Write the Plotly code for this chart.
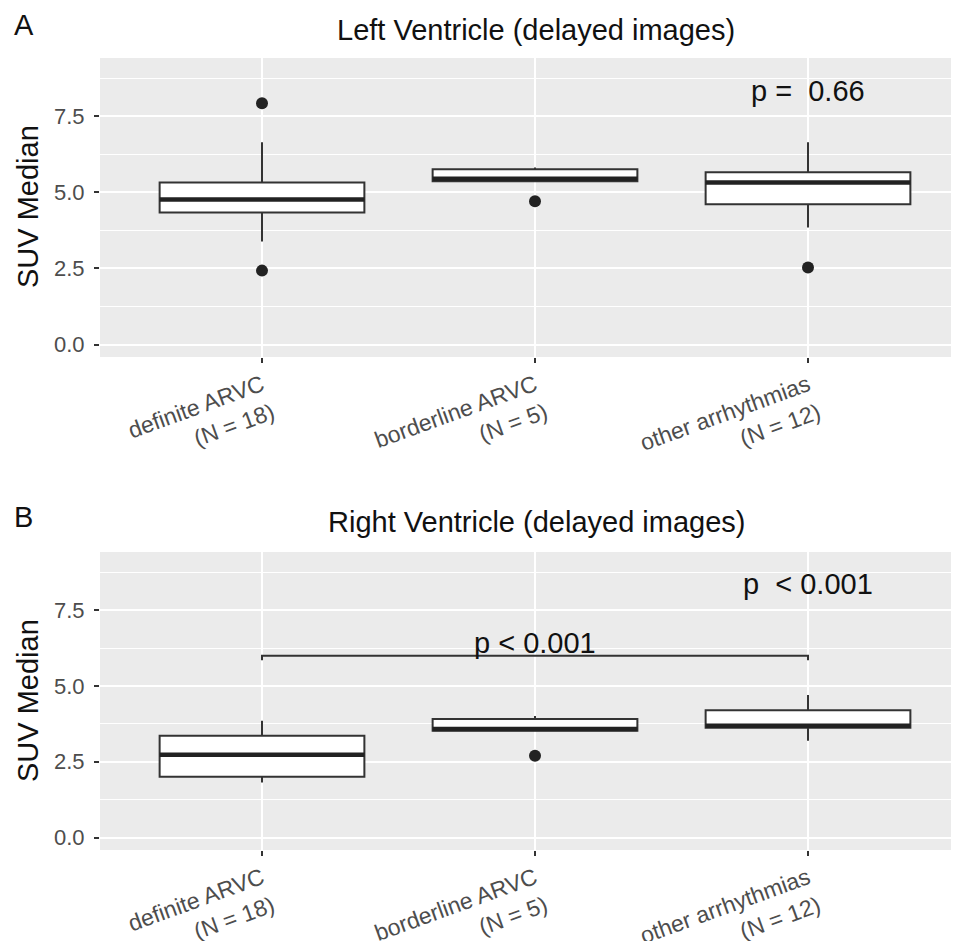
import plotly.graph_objects as go

# ---------------- data ----------------
categories = [1, 2, 3]
tick_labels = ["definite ARVC<br>(N = 18)", "borderline ARVC<br>(N = 5)", "other arrhythmias<br>(N = 12)"]

# Panel A: Left ventricle (delayed images)
lv_q1 = [4.34, 5.37, 4.61]
lv_median = [4.77, 5.45, 5.33]
lv_q3 = [5.33, 5.76, 5.66]
lv_lower = [3.39, 5.37, 3.85]
lv_upper = [6.65, 5.82, 6.65]
lv_out_x = [1, 1, 2, 3]
lv_out_y = [7.93, 2.43, 4.71, 2.53]
lv_p_text = "p =\u00a0\u00a00.66"

# Panel B: Right ventricle (delayed images)
rv_q1 = [2.01, 3.52, 3.62]
rv_median = [2.73, 3.58, 3.69]
rv_q3 = [3.36, 3.91, 4.20]
rv_lower = [1.82, 3.52, 3.19]
rv_upper = [3.85, 4.01, 4.70]
rv_out_x = [2]
rv_out_y = [2.70]
rv_p_text = "p\u00a0\u00a0< 0.001"
rv_bracket_groups = [1, 3]
rv_bracket_y = 6.0
rv_bracket_text = "p < 0.001"

# ---------------- layout constants ----------------
OFF = 8                      # page body margin offset
W, H = 959 - OFF, 941 - OFF
BOX_W = 0.75
LINE_C = "#333333"
FONT = "Liberation Sans, Arial, sans-serif"
PLOT_L, PLOT_R = 100, 959
# category 1 at x=262 px, spacing 273 px
X_RANGE = [1 - (262 - PLOT_L) / 273, 3 + (PLOT_R - 808) / 273]
Y_RANGE = [-0.41, 9.42]


def fx(p):
    return (p - OFF) / W


def fy(p):
    return 1 - (p - OFF) / H


fig = go.Figure()


def add_panel(xa, ya, q1, med, q3, lo, hi, ox, oy):
    fig.add_trace(go.Box(
        x=categories, q1=q1, median=med, q3=q3, lowerfence=lo, upperfence=hi,
        width=BOX_W, whiskerwidth=0, fillcolor="white",
        line=dict(color=LINE_C, width=2), boxpoints=False,
        xaxis=xa, yaxis=ya, showlegend=False, hoverinfo="skip"))
    # thicker median segments derived from the data
    mx, my = [], []
    for c, m in zip(categories, med):
        mx += [c - BOX_W / 2, c + BOX_W / 2, None]
        my += [m, m, None]
    fig.add_trace(go.Scatter(x=mx, y=my, mode="lines",
                             line=dict(color="#222222", width=4.5),
                             xaxis=xa, yaxis=ya, showlegend=False, hoverinfo="skip"))
    fig.add_trace(go.Scatter(x=ox, y=oy, mode="markers",
                             marker=dict(color="#222222", size=12),
                             xaxis=xa, yaxis=ya, showlegend=False, hoverinfo="skip"))


add_panel("x", "y", lv_q1, lv_median, lv_q3, lv_lower, lv_upper, lv_out_x, lv_out_y)
add_panel("x2", "y2", rv_q1, rv_median, rv_q3, rv_lower, rv_upper, rv_out_x, rv_out_y)

# significance bracket in panel B
bx0, bx1 = rv_bracket_groups
tip = 0.15
fig.add_trace(go.Scatter(
    x=[bx0, bx0, bx1, bx1], y=[rv_bracket_y - tip, rv_bracket_y, rv_bracket_y, rv_bracket_y - tip],
    mode="lines", line=dict(color="#333333", width=2),
    xaxis="x2", yaxis="y2", showlegend=False, hoverinfo="skip"))

x_dom = [fx(PLOT_L), 1.0]
yA = [fy(357), fy(58)]
yB = [fy(850), fy(552)]

xaxis_common = dict(
    range=X_RANGE, tickmode="array", tickvals=categories, ticktext=tick_labels,
    tickangle=-20, tickfont=dict(family=FONT, size=23, color="#4D4D4D"),
    showgrid=True, gridcolor="white", gridwidth=2, zeroline=False, showline=False,
    ticks="outside", ticklen=5, tickwidth=2, tickcolor="#333333", automargin=False,
    ticklabelstandoff=0, ticklabelshift=0,
    domain=x_dom, fixedrange=True)
yaxis_common = dict(
    range=Y_RANGE, tickmode="linear", tick0=0, dtick=2.5, tickformat=".1f",
    tickfont=dict(family=FONT, size=22, color="#4D4D4D"),
    showgrid=True, gridcolor="white", gridwidth=2, zeroline=False, showline=False,
    minor=dict(tick0=0, dtick=1.25, showgrid=True, gridcolor="white", gridwidth=1, ticks=""),
    ticks="outside", ticklen=5, tickwidth=2, tickcolor="#333333", automargin=False,
    ticklabelstandoff=5, fixedrange=True)

fig.update_layout(
    width=W, height=H, margin=dict(l=0, r=0, t=0, b=0),
    paper_bgcolor="white", plot_bgcolor="#EBEBEB",
    font=dict(family=FONT, color="#1a1a1a"),
    xaxis=dict(**xaxis_common, anchor="y"),
    yaxis=dict(**yaxis_common, domain=yA, anchor="x"),
    xaxis2=dict(**xaxis_common, anchor="y2"),
    yaxis2=dict(**yaxis_common, domain=yB, anchor="x2"),
)

TXT = "#111111"
ann = []
# panel letters
ann.append(dict(text="A", x=fx(12), y=fy(25), xref="paper", yref="paper",
                xanchor="left", yanchor="middle", showarrow=False, font=dict(size=29, color=TXT)))
ann.append(dict(text="B", x=fx(12), y=fy(517), xref="paper", yref="paper",
                xanchor="left", yanchor="middle", showarrow=False, font=dict(size=29, color=TXT)))
# titles
ann.append(dict(text="Left Ventricle (delayed images)", x=fx(536), y=fy(30), xref="paper", yref="paper",
                xanchor="center", yanchor="middle", showarrow=False, font=dict(size=29, color=TXT)))
ann.append(dict(text="Right Ventricle (delayed images)", x=fx(536), y=fy(522), xref="paper", yref="paper",
                xanchor="center", yanchor="middle", showarrow=False, font=dict(size=29, color=TXT)))
# y axis titles
for yc in (207, 701):
    ann.append(dict(text="SUV Median", x=fx(28), y=fy(yc), xref="paper", yref="paper",
                    xanchor="center", yanchor="middle", textangle=-90, showarrow=False,
                    font=dict(size=29, color=TXT)))
# p-values
ann.append(dict(text=lv_p_text, x=3, y=8.32, xref="x", yref="y", xanchor="center", yanchor="middle",
                showarrow=False, font=dict(size=29, color=TXT)))
ann.append(dict(text=rv_p_text, x=3, y=8.36, xref="x2", yref="y2", xanchor="center", yanchor="middle",
                showarrow=False, font=dict(size=29, color=TXT)))
ann.append(dict(text=rv_bracket_text, x=(bx0 + bx1) / 2, y=6.42, xref="x2", yref="y2",
                xanchor="center", yanchor="middle", showarrow=False, font=dict(size=29, color=TXT)))
fig.update_layout(annotations=ann)

fig.write_html("out.html")
